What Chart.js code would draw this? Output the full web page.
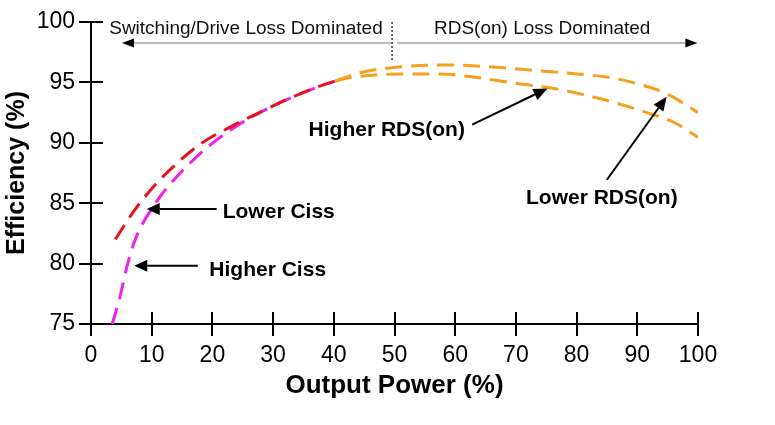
<!DOCTYPE html>
<html>
<head>
<meta charset="utf-8">
<script src="https://cdn.jsdelivr.net/npm/chart.js@4/dist/chart.umd.min.js"></script>
<style>
  html, body { margin: 0; padding: 0; background: #fff; }
  #wrap { width: 775px; height: 425px; }
</style>
</head>
<body>
<div id="wrap"><canvas id="c" width="775" height="425"></canvas></div>
<script>
// ---- data ----
const xTicks = [0, 10, 20, 30, 40, 50, 60, 70, 80, 90, 100];
const yTicks = [75, 80, 85, 90, 95, 100];

const lowerCissX = [4, 7, 10, 13.3, 18, 22.9, 27.3, 32.3, 38.3, 40.2];
const lowerCissY = [82.0, 84.3, 86.2, 87.9, 89.9, 91.3, 92.4, 93.6, 94.8, 95.1];

const higherCissX = [3.5, 4.8, 5.9, 7, 8.6, 9.7, 11.6, 14.7, 19.1, 24, 30.6, 38.3, 40.2];
const higherCissY = [75, 77.3, 79.7, 81.6, 83.4, 84.3, 85.7, 87.5, 89.6, 91.4, 93.2, 94.8, 95.1];

const lowerRdsX = [40.2, 44.3, 49.3, 58.1, 65.2, 72.9, 80.1, 85.5, 89.9, 94.9, 100];
const lowerRdsY = [95.1, 95.8, 96.2, 96.45, 96.3, 96.0, 95.7, 95.4, 94.9, 94.05, 92.5];

const higherRdsX = [40.2, 42.7, 50.9, 57.5, 63.6, 70.2, 75.1, 80.6, 86.1, 91.6, 96, 100];
const higherRdsY = [95.1, 95.4, 95.7, 95.7, 95.4, 94.9, 94.6, 94.05, 93.35, 92.5, 91.7, 90.45];

const toPts = (xs, ys) => xs.map((x, i) => ({ x: x, y: ys[i] }));

// ---- annotations (in data units) ----
const texts = [
  { t: 'Switching/Drive Loss Dominated', x: 3.0, y: 99.0, align: 'left', bold: false, size: 19 },
  { t: 'RDS(on) Loss Dominated', x: 56.5, y: 99.0, align: 'left', bold: false, size: 19 },
  { t: 'Lower Ciss', x: 21.7, y: 83.75, align: 'left', bold: true, size: 21 },
  { t: 'Higher Ciss', x: 19.5, y: 79.0, align: 'left', bold: true, size: 21 },
  { t: 'Higher RDS(on)', x: 61.6, y: 90.58, align: 'right', bold: true, size: 21 },
  { t: 'Lower RDS(on)', x: 71.66, y: 84.9, align: 'left', bold: true, size: 21 }
];
const arrows = [
  { x1: 49.4, y1: 98.26, x2: 5.1, y2: 98.26, color: '#a0a0a0', w: 1.5, head: 12, hw: 4.5 },
  { x1: 50.4, y1: 98.26, x2: 99.9, y2: 98.26, color: '#a0a0a0', w: 1.5, head: 12, hw: 4.5 },
  { x1: 20.7, y1: 84.52, x2: 9.18, y2: 84.52, color: '#000', w: 2, head: 13, hw: 6 },
  { x1: 17.6, y1: 79.83, x2: 7.13, y2: 79.83, color: '#000', w: 2, head: 13, hw: 6 },
  { x1: 62.8, y1: 91.5, x2: 75.2, y2: 94.5, color: '#000', w: 2, head: 14, hw: 6 },
  { x1: 84.96, y1: 86.92, x2: 94.84, y2: 93.82, color: '#000', w: 2, head: 14, hw: 6 }
];
const divider = { x: 49.6, y1: 100, y2: 96.7 };

const FONT = "'Liberation Sans', Arial, sans-serif";

const overlay = {
  id: 'overlay',
  afterDraw(chart) {
    const ctx = chart.ctx;
    const xs = chart.scales.x, ys = chart.scales.y;
    ctx.save();
    // inner half of crossing ticks
    ctx.strokeStyle = '#000';
    ctx.lineWidth = 2;
    const ca = chart.chartArea;
    xs.ticks.forEach(t => {
      const px = Math.round(xs.getPixelForValue(t.value));
      ctx.beginPath(); ctx.moveTo(px, ca.bottom); ctx.lineTo(px, ca.bottom - 12); ctx.stroke();
    });
    ys.ticks.forEach(t => {
      const py = Math.round(ys.getPixelForValue(t.value));
      ctx.beginPath(); ctx.moveTo(ca.left, py); ctx.lineTo(ca.left + 12, py); ctx.stroke();
    });
    // divider
    ctx.strokeStyle = '#333';
    ctx.lineWidth = 1.5;
    ctx.setLineDash([2, 2]);
    const dx = xs.getPixelForValue(divider.x);
    ctx.beginPath(); ctx.moveTo(dx, ys.getPixelForValue(divider.y1)); ctx.lineTo(dx, ys.getPixelForValue(divider.y2)); ctx.stroke();
    ctx.setLineDash([]);
    // arrows
    arrows.forEach(a => {
      const x1 = xs.getPixelForValue(a.x1), y1 = ys.getPixelForValue(a.y1);
      const x2 = xs.getPixelForValue(a.x2), y2 = ys.getPixelForValue(a.y2);
      const ang = Math.atan2(y2 - y1, x2 - x1);
      const bx = x2 - a.head * Math.cos(ang), by = y2 - a.head * Math.sin(ang);
      ctx.strokeStyle = a.color; ctx.lineWidth = a.w;
      ctx.beginPath(); ctx.moveTo(x1, y1); ctx.lineTo(bx, by); ctx.stroke();
      ctx.fillStyle = '#000';
      ctx.beginPath();
      ctx.moveTo(x2, y2);
      ctx.lineTo(bx + a.hw * Math.sin(ang), by - a.hw * Math.cos(ang));
      ctx.lineTo(bx - a.hw * Math.sin(ang), by + a.hw * Math.cos(ang));
      ctx.closePath(); ctx.fill();
    });
    // texts
    texts.forEach(n => {
      ctx.font = (n.bold ? 'bold ' : '') + n.size + 'px ' + FONT;
      ctx.fillStyle = n.bold ? '#000' : '#111';
      ctx.textAlign = n.align;
      ctx.textBaseline = 'alphabetic';
      ctx.fillText(n.t, xs.getPixelForValue(n.x), ys.getPixelForValue(n.y));
    });
    ctx.restore();
  }
};

const dash = [17, 9];
new Chart(document.getElementById('c'), {
  type: 'line',
  data: {
    datasets: [
      { label: 'Lower RDS(on)', data: toPts(lowerRdsX, lowerRdsY), borderColor: '#f5a01e' },
      { label: 'Higher RDS(on)', data: toPts(higherRdsX, higherRdsY), borderColor: '#f5a01e' },
      { label: 'Lower Ciss', data: toPts(lowerCissX, lowerCissY), borderColor: '#e8121c' },
      { label: 'Higher Ciss', data: toPts(higherCissX, higherCissY), borderColor: '#ee22ee' }
    ].map(d => Object.assign(d, {
      borderWidth: 3, borderDash: dash, pointRadius: 0, fill: false,
      cubicInterpolationMode: 'monotone', borderCapStyle: 'butt'
    }))
  },
  options: {
    responsive: false,
    animation: false,
    layout: { padding: { left: 0, right: 77, top: 22, bottom: 0 } },
    plugins: { legend: { display: false }, tooltip: { enabled: false } },
    scales: {
      x: {
        type: 'linear', min: 0, max: 100,
        afterBuildTicks: s => { s.ticks = xTicks.map(v => ({ value: v })); },
        ticks: { color: '#000', font: { family: FONT, size: 23 }, padding: 6, maxRotation: 0, autoSkip: false },
        grid: { drawOnChartArea: false, drawTicks: true, tickLength: 12, color: '#000', lineWidth: 2 },
        border: { color: '#000', width: 2 },
        title: { display: true, text: 'Output Power (%)', color: '#000',
                 font: { family: FONT, size: 26, weight: 'bold' }, padding: { top: 0, bottom: 24 } },
        afterFit: s => { s.height = 101; }
      },
      y: {
        type: 'linear', min: 75, max: 100,
        afterBuildTicks: s => { s.ticks = yTicks.map(v => ({ value: v })); },
        ticks: { color: '#000', font: { family: FONT, size: 23 }, padding: 4 },
        grid: { drawOnChartArea: false, drawTicks: true, tickLength: 12, color: '#000', lineWidth: 2 },
        border: { color: '#000', width: 2 },
        title: { display: true, text: 'Efficiency (%)', color: '#000',
                 font: { family: FONT, size: 25, weight: 'bold' }, padding: { top: 2, bottom: 0 } },
        afterFit: s => { s.width = 91; }
      }
    }
  },
  plugins: [overlay]
});
</script>
</body>
</html>
